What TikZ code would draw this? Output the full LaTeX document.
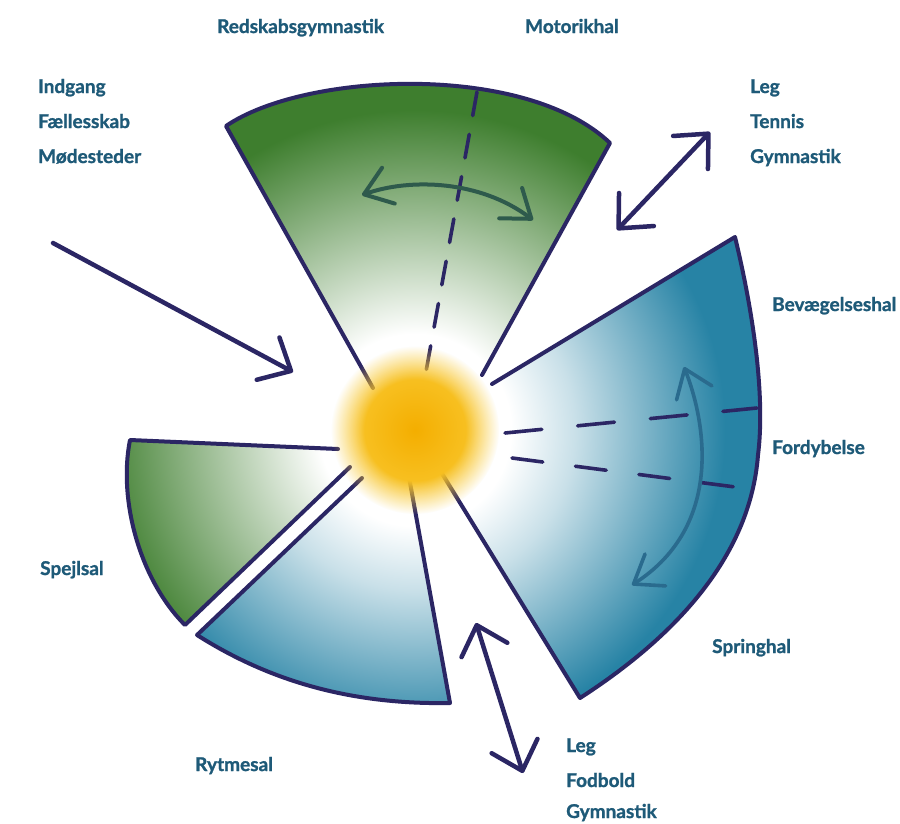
\documentclass[tikz,border=0pt]{standalone}
\usepackage{fontspec}
\setmainfont{Lato}[BoldFeatures={FakeBold=1.2}]
\usetikzlibrary{arrows.meta,fadings}

\definecolor{navy}{HTML}{2B2664}
\definecolor{txt}{HTML}{1E5A78}
\definecolor{gdark}{HTML}{3E7E2E}
\definecolor{bdark}{HTML}{2783A5}
\definecolor{sunA}{HTML}{F4AE00}
\definecolor{sunB}{HTML}{F9CB35}
\definecolor{garrow}{HTML}{2E5A4C}
\definecolor{barrow}{HTML}{2A6B8E}

% shadings drawn on a circle of radius 500: 25bp = 500 units
\pgfdeclareradialshading{greenrad}{\pgfpointorigin}{color(0bp)=(white); color(4.8bp)=(white); color(16bp)=(gdark); color(50bp)=(gdark)}
\pgfdeclareradialshading{bluerad}{\pgfpointorigin}{color(0bp)=(white); color(4.8bp)=(white); color(8bp)=(bdark!25!white); color(15.5bp)=(bdark); color(50bp)=(bdark)}
\pgfdeclareradialshading{sunfadeshading}{\pgfpointorigin}{color(0bp)=(transparent!0); color(15bp)=(transparent!0); color(25bp)=(transparent!100); color(50bp)=(transparent!100)}
\pgfdeclarefading{sunfade}{\pgfuseshading{sunfadeshading}}

\tikzset{
  outline/.style={navy, line width=4pt, line cap=round, line join=round},
  dashline/.style={navy, line width=3.6pt, line cap=round},
  bigarrow/.style={navy, line width=4.5pt, line cap=round},
  tipbig/.tip={Straight Barb[length=26pt,width=48pt,round]},
  tipsmall/.tip={Straight Barb[length=26pt,width=38pt,round]},
  lbl/.style={txt, font=\fontsize{19}{19}\selectfont\bfseries, anchor=base west, inner sep=0pt},
}

\begin{document}
\begin{tikzpicture}[x=1pt,y=-1pt]
\useasboundingbox (0,0) rectangle (900,823);
\fill[white] (0,0) rectangle (900,823);

\coordinate (sun) at (415,430);
% top sector
\coordinate (T1) at (373,388);
\coordinate (T2) at (226,126);
\coordinate (T3) at (610,143);
\coordinate (T4) at (482,375);
% right sector
\coordinate (R1) at (492,384);
\coordinate (R2) at (735,237);
\coordinate (Rm) at (758,455);
\coordinate (R3) at (580,698);
\coordinate (R4) at (438,467);
% left sector
\coordinate (L1) at (338,449);
\coordinate (L2) at (130,440);
\coordinate (L3) at (185,625);
\coordinate (L4) at (350,467);
% bottom sector
\coordinate (B1) at (362,478);
\coordinate (B2) at (197,635);
\coordinate (B3) at (450,703);
\coordinate (B4) at (407,466);

% fills
\begin{scope}
\clip (T1) -- (T2) .. controls (305,72) and (525,62) .. (T3) -- (T4) -- (sun) -- cycle;
\shade[shading=greenrad] (sun) circle (500);
\end{scope}
\begin{scope}
\clip (R1) -- (R2) .. controls (755,320) and (765,400) .. (Rm) .. controls (750,560) and (670,640) .. (R3) -- (R4) -- (sun) -- cycle;
\shade[shading=bluerad] (sun) circle (500);
\end{scope}
\begin{scope}
\clip (L1) -- (L2) .. controls (118,500) and (140,580) .. (L3) -- (L4) -- (sun) -- cycle;
\shade[shading=greenrad] (sun) circle (500);
\end{scope}
\begin{scope}
\clip (B1) -- (B2) .. controls (260,675) and (340,705) .. (B3) -- (B4) -- (sun) -- cycle;
\shade[shading=bluerad] (sun) circle (500);
\end{scope}

% outlines
\draw[outline] (T1) -- (T2) .. controls (305,72) and (525,62) .. (T3) -- (T4);
\draw[outline] (R1) -- (R2) .. controls (755,320) and (765,400) .. (Rm) .. controls (750,560) and (670,640) .. (R3) -- (R4);
\draw[outline] (L1) -- (L2) .. controls (118,500) and (140,580) .. (L3) -- (L4);
\draw[outline] (B1) -- (B2) .. controls (260,675) and (340,705) .. (B3) -- (B4);

% dashed lines
\coordinate (DT1) at (477,92);
\coordinate (DT2) at (423,388);
\draw[dashline, dash pattern=on 24pt off 19pt] (DT1) -- (DT2);
\coordinate (DR1) at (505,433);
\coordinate (DR2) at (757,408);
\draw[dashline, dash pattern=on 37pt off 36pt] (DR1) -- (DR2);
\coordinate (DR3) at (512,458);
\coordinate (DR4) at (743,488);
\draw[dashline, dash pattern=on 31pt off 33pt] (DR3) -- (DR4);

% curved arrows inside sectors
\coordinate (GA1) at (362,195);
\coordinate (GA2) at (533,220);
\draw[garrow, line width=4pt, line cap=round, {tipsmall}-{tipsmall}] (GA1) .. controls (410,178) and (480,180) .. (GA2);
\coordinate (BA1) at (684,367);
\coordinate (BA2) at (632,585);
\draw[barrow, line width=3.6pt, line cap=round, {tipsmall}-{tipsmall}] (BA1) .. controls (705,420) and (725,525) .. (BA2);

% sun
\shade[inner color=sunA, outer color=sunB, path fading=sunfade, fit fading=true] (sun) circle (84);

% big arrows
\coordinate (E1) at (53,243);
\coordinate (E2) at (293,372);
\draw[bigarrow, -{tipbig}] (E1) -- (E2);
\coordinate (N1) at (617,230);
\coordinate (N2) at (710,132);
\draw[bigarrow, {tipbig}-{tipbig}] (N1) -- (N2);
\coordinate (S1) at (476,623);
\coordinate (S2) at (523,773);
\draw[bigarrow, {tipbig}-{tipbig}] (S1) -- (S2);

% labels
\node[lbl] (redskab) at (217,33) {Redskabsgymnastik};
\node[lbl] (motorik) at (525,33) {Motorikhal};
\node[lbl] (indgang) at (38,93) {Indgang};
\node[lbl] (faelles) at (38,128) {Fællesskab};
\node[lbl] (moede) at (38,163) {Mødesteder};
\node[lbl] (leg1) at (750,93) {Leg};
\node[lbl] (tennis) at (750,128) {Tennis};
\node[lbl] (gym1) at (750,163) {Gymnastik};
\node[lbl] (bevaeg) at (772,311) {Bevægelseshal};
\node[lbl] (fordyb) at (772,454) {Fordybelse};
\node[lbl] (spring) at (712,653) {Springhal};
\node[lbl] (spejl) at (40,575) {Spejlsal};
\node[lbl] (rytme) at (195,771) {Rytmesal};
\node[lbl] (leg2) at (566,752) {Leg};
\node[lbl] (fodbold) at (566,787) {Fodbold};
\node[lbl] (gym2) at (566,818) {Gymnastik};
\end{tikzpicture}
\end{document}
